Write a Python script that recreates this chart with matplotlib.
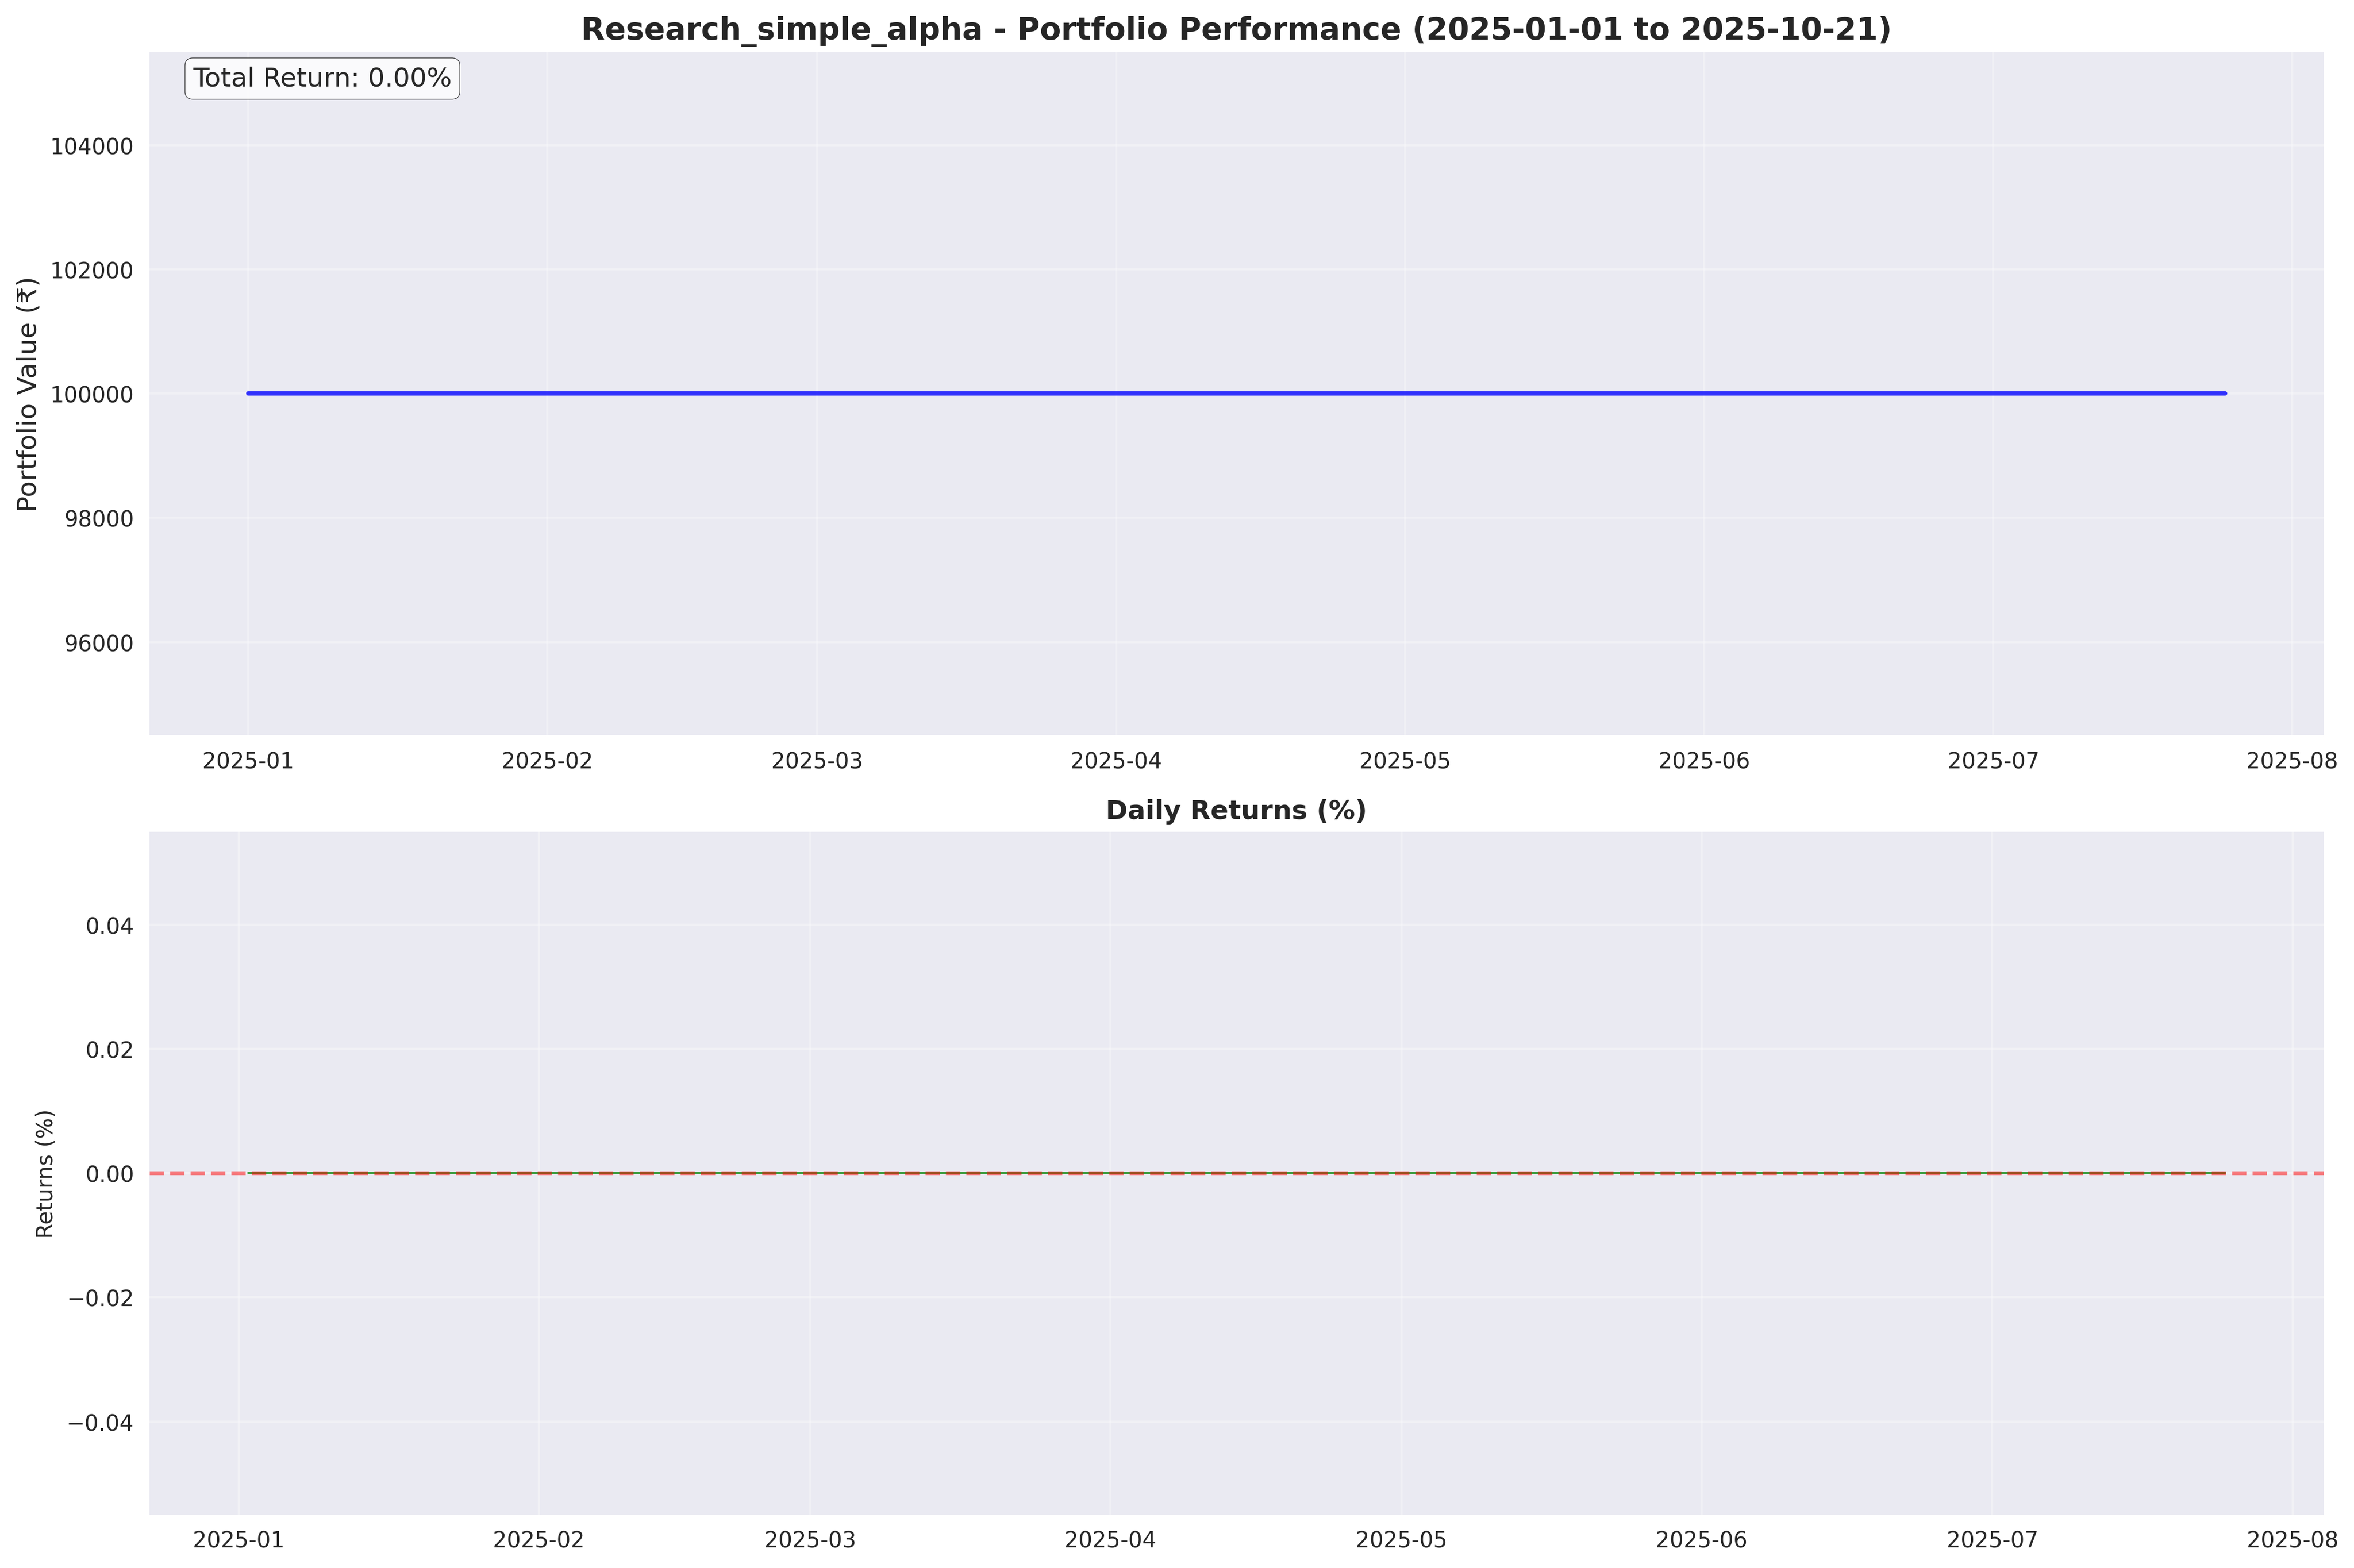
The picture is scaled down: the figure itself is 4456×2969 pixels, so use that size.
"""Research_simple_alpha 포트폴리오 성과 그래프."""

import matplotlib
matplotlib.use("Agg")
import matplotlib.pyplot as plt
import pandas as pd

strategy_name = "Research_simple_alpha"
start_label = "2025-01-01"
end_label = "2025-10-21"

# 거래일 기준 포트폴리오 가치 (전 기간 변동 없음)
dates = pd.bdate_range("2025-01-01", "2025-07-25")
initial_value = 100000.0
portfolio_values = [initial_value] * len(dates)

plt.style.use("seaborn-v0_8")
plt.rcParams["font.family"] = ["DejaVu Sans"]

values = pd.Series(portfolio_values, index=dates)
daily_returns = values.pct_change().dropna() * 100
total_return = (values.iloc[-1] / values.iloc[0] - 1) * 100

fig, (ax1, ax2) = plt.subplots(2, 1, figsize=(15, 10))

ax1.plot(values.index, values.values, color="blue", linewidth=2, alpha=0.8)
ax1.set_title(f"{strategy_name} - Portfolio Performance ({start_label} to {end_label})",
              fontsize=14, fontweight="bold")
ax1.set_ylabel("Portfolio Value (₹)", fontsize=12)
ax1.grid(True, alpha=0.3)
ax1.text(0.02, 0.98, f"Total Return: {total_return:.2f}%", transform=ax1.transAxes,
         fontsize=12, va="top",
         bbox=dict(boxstyle="round", facecolor="white", alpha=0.8))

ax2.plot(daily_returns.index, daily_returns.values, color="green", linewidth=1, alpha=0.7)
ax2.axhline(0, color="red", linestyle="--", alpha=0.5)
ax2.set_title("Daily Returns (%)", fontsize=12, fontweight="bold")
ax2.set_ylabel("Returns (%)", fontsize=10)
ax2.grid(True, alpha=0.3)

fig.tight_layout()
fig.savefig("out.png", dpi=300, bbox_inches="tight")
